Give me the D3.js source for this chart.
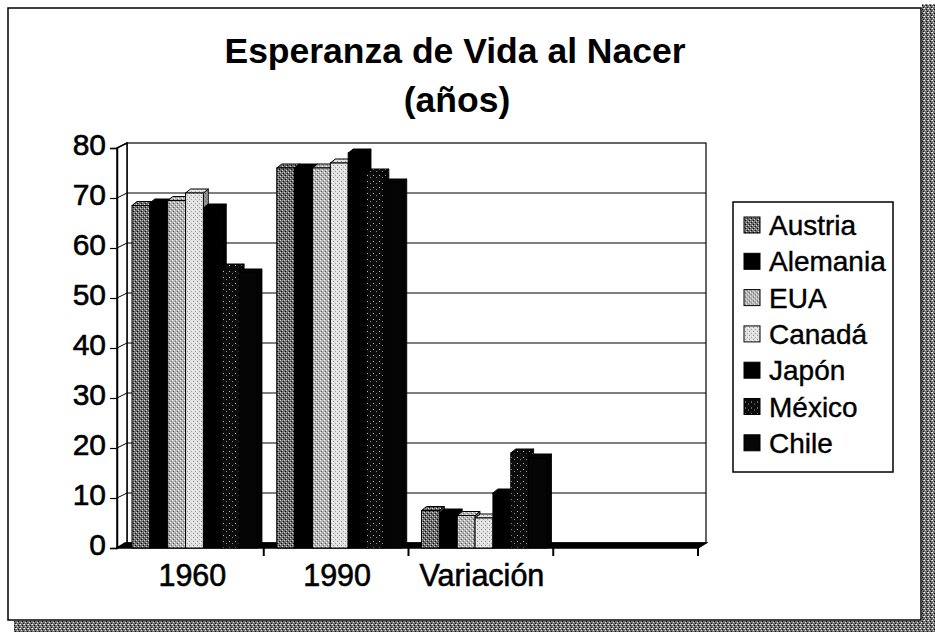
<!DOCTYPE html>
<html>
<head>
<meta charset="utf-8">
<script src="https://cdn.jsdelivr.net/npm/d3@7"></script>
<style>
  body { margin: 0; background: #fff; }
  text { font-family: "Liberation Sans", Arial, sans-serif; fill: #000; }
</style>
</head>
<body>
<script>
const width = 935;
const height = 632;

// data
const categories = ["1960", "1990", "Variación", ""];
const series = ["Austria", "Alemania", "EUA", "Canadá", "Japón", "México", "Chile"];
const v1960 = [68.5, 69, 69.5, 71, 68, 56, 55];
const v1990 = [76, 76, 76, 77, 79, 75, 73];
const vVariacion = [7.5, 7, 6.5, 6, 11, 19, 18];
const yTicks = [0, 10, 20, 30, 40, 50, 60, 70, 80];

const groups = [
  { cat: "1960", values: v1960 },
  { cat: "1990", values: v1990 },
  { cat: "Variación", values: vVariacion },
];

const svg = d3
  .select("body")
  .append("svg")
  .attr("width", width)
  .attr("height", height);

const defs = svg.append("defs");

// speckled fills, like the scanned hatches
function addPattern(id, size, bg, dots) {
  const p = defs
    .append("pattern")
    .attr("id", id)
    .attr("patternUnits", "userSpaceOnUse")
    .attr("width", size)
    .attr("height", size);
  p.append("rect").attr("width", size).attr("height", size).attr("fill", bg);
  dots.forEach(([x, y, c]) => {
    p.append("rect").attr("x", x).attr("y", y).attr("width", 1).attr("height", 1).attr("fill", c);
  });
}
addPattern("pAustria", 4, "#6c6c6c", [[0, 0, "#d8d8d8"], [2, 2, "#cfcfcf"], [1, 3, "#000"], [3, 1, "#111"], [2, 0, "#999"]]);
addPattern("pEUA", 4, "#b4b4b4", [[0, 0, "#fff"], [2, 2, "#fff"], [1, 3, "#555"], [3, 1, "#777"]]);
addPattern("pCanada", 4, "#e2e2e2", [[1, 1, "#8a8a8a"], [3, 3, "#a0a0a0"], [0, 2, "#fff"]]);
addPattern("pMexico", 6, "#0c0c0c", [[1, 1, "#bbb"], [4, 3, "#888"]]);
addPattern("pScan", 4, "#707070", [[0, 0, "#fff"], [2, 1, "#000"], [1, 2, "#ddd"], [3, 3, "#111"], [3, 0, "#bbb"]]);

const fills = {
  Austria: "url(#pAustria)",
  Alemania: "#000",
  EUA: "url(#pEUA)",
  "Canadá": "url(#pCanada)",
  "Japón": "#000",
  "México": "url(#pMexico)",
  Chile: "#050505",
};

// scan edges
svg.append("rect").attr("x", 922).attr("y", 4).attr("width", 13).attr("height", 628).attr("fill", "url(#pScan)");
svg.append("rect").attr("x", 14).attr("y", 621).attr("width", 921).attr("height", 11).attr("fill", "url(#pScan)");

// chart frame
svg.append("rect")
  .attr("x", 8).attr("y", 8)
  .attr("width", 913).attr("height", 612)
  .attr("fill", "#fff")
  .attr("stroke", "#000")
  .attr("stroke-width", 1.5);

// title
svg.append("text")
  .attr("x", 455).attr("y", 63)
  .attr("text-anchor", "middle")
  .attr("font-size", 35.5)
  .attr("font-weight", "bold")
  .text("Esperanza de Vida al Nacer");
svg.append("text")
  .attr("x", 457).attr("y", 112)
  .attr("text-anchor", "middle")
  .attr("font-size", 35.5)
  .attr("font-weight", "bold")
  .text("(años)");

// scales
const x0 = d3.scaleBand().domain(categories).range([119, 698]);
const x1 = d3.scaleBand().domain(series).range([13, 138]);
const y = d3.scaleLinear().domain([0, 80]).range([548, 148]);
const wall = { dx: 8, dy: -5 };
const bd = { dx: 5, dy: -4 };
const y0 = y(0);

// back wall
const g = svg.append("g");
g.append("rect")
  .attr("x", 119 + wall.dx).attr("y", y(80) + wall.dy)
  .attr("width", 698 - 119).attr("height", y0 - y(80))
  .attr("fill", "#fff").attr("stroke", "#000").attr("stroke-width", 1.2);

g.selectAll(".grid")
  .data(yTicks.filter((d) => d > 0 && d < 80))
  .join("line")
  .attr("x1", 119 + wall.dx).attr("x2", 698 + wall.dx)
  .attr("y1", (d) => y(d) + wall.dy).attr("y2", (d) => y(d) + wall.dy)
  .attr("stroke", "#000").attr("stroke-width", 1.2);

// left wall
g.append("polygon")
  .attr("points", [
    [117, y0], [117 + wall.dx + 2, y0 + wall.dy], [117 + wall.dx + 2, y(80) + wall.dy], [117, y(80)],
  ].join(" "))
  .attr("fill", "#fff").attr("stroke", "#000").attr("stroke-width", 1.5);
g.selectAll(".lgrid")
  .data(yTicks)
  .join("line")
  .attr("x1", 117).attr("x2", 127)
  .attr("y1", (d) => y(d)).attr("y2", (d) => y(d) + wall.dy)
  .attr("stroke", "#000");

// floor
g.append("polygon")
  .attr("points", [[117, y0], [698, y0], [698 + wall.dx, y0 + wall.dy], [117 + wall.dx, y0 + wall.dy]].join(" "))
  .attr("fill", "#000").attr("stroke", "#000").attr("stroke-width", 1.5);

// y axis (front edge of the left wall)
const yAxis = d3.axisLeft(y).tickValues(yTicks).tickSize(7).tickPadding(4);
const ya = svg.append("g").attr("transform", "translate(117,0)").call(yAxis);
ya.select(".domain").attr("stroke", "#000").attr("stroke-width", 1.5);
ya.selectAll(".tick line").attr("stroke", "#000").attr("stroke-width", 1.2);
ya.selectAll(".tick text")
  .attr("font-size", 30)
  .attr("font-family", "Liberation Sans, Arial, sans-serif")
  .attr("fill", "#000")
  .attr("stroke", "#000")
  .attr("stroke-width", 0.6)
  .attr("dy", "0.2em");

// x axis ticks and labels
const bounds = categories.map((c) => x0(c)).concat([698]);
svg.selectAll(".xtick")
  .data(bounds.slice(1))
  .join("line")
  .attr("x1", (d) => d).attr("x2", (d) => d)
  .attr("y1", y0).attr("y2", y0 + 8)
  .attr("stroke", "#000").attr("stroke-width", 2);
svg.selectAll(".xlab")
  .data(categories.filter((c) => c !== ""))
  .join("text")
  .attr("x", (d) => x0(d) + x0.bandwidth() / 2 + 1)
  .attr("y", 586)
  .attr("text-anchor", "middle")
  .attr("font-size", 30.5)
  .attr("stroke", "#000")
  .attr("stroke-width", 0.6)
  .text((d) => d);

// bars, left to right so each covers its neighbour's hidden side
const bars = svg.append("g");
groups.forEach((grp) => {
  grp.values.forEach((v, i) => {
    const s = series[i];
    const xl = x0(grp.cat) + x1(s);
    const w = x1.bandwidth();
    const yt = y(v);
    const fill = fills[s];
    const side = [[xl + w, yt], [xl + w + bd.dx, yt + bd.dy], [xl + w + bd.dx, y0 + bd.dy], [xl + w, y0]];
    bars.append("polygon").attr("points", side.join(" ")).attr("fill", fill).attr("stroke", "#000").attr("stroke-width", 0.8);
    bars.append("polygon").attr("points", side.join(" ")).attr("fill", "#000").attr("opacity", 0.35);
    const top = [[xl, yt], [xl + bd.dx, yt + bd.dy], [xl + w + bd.dx, yt + bd.dy], [xl + w, yt]];
    bars.append("polygon").attr("points", top.join(" ")).attr("fill", fill).attr("stroke", "#000").attr("stroke-width", 1);
    bars.append("rect")
      .attr("x", xl).attr("y", yt)
      .attr("width", w).attr("height", y0 - yt)
      .attr("fill", fill)
      .attr("stroke", "#000").attr("stroke-width", 1);
  });
});

// legend
const legend = svg.append("g");
legend.append("rect")
  .attr("x", 733).attr("y", 202)
  .attr("width", 160).attr("height", 270)
  .attr("fill", "#fff").attr("stroke", "#000").attr("stroke-width", 1.5);
const items = legend.selectAll(".item")
  .data(series)
  .join("g")
  .attr("transform", (d, i) => `translate(744,${225 + i * 36.3})`);
items.append("rect")
  .attr("x", 0).attr("y", -8)
  .attr("width", 16).attr("height", 16)
  .attr("fill", (d) => fills[d])
  .attr("stroke", "#000").attr("stroke-width", 1);
items.append("text")
  .attr("x", 25).attr("y", 0).attr("dy", "0.36em")
  .attr("font-size", 28)
  .attr("stroke", "#000")
  .attr("stroke-width", 0.4)
  .text((d) => d);
</script>
</body>
</html>
